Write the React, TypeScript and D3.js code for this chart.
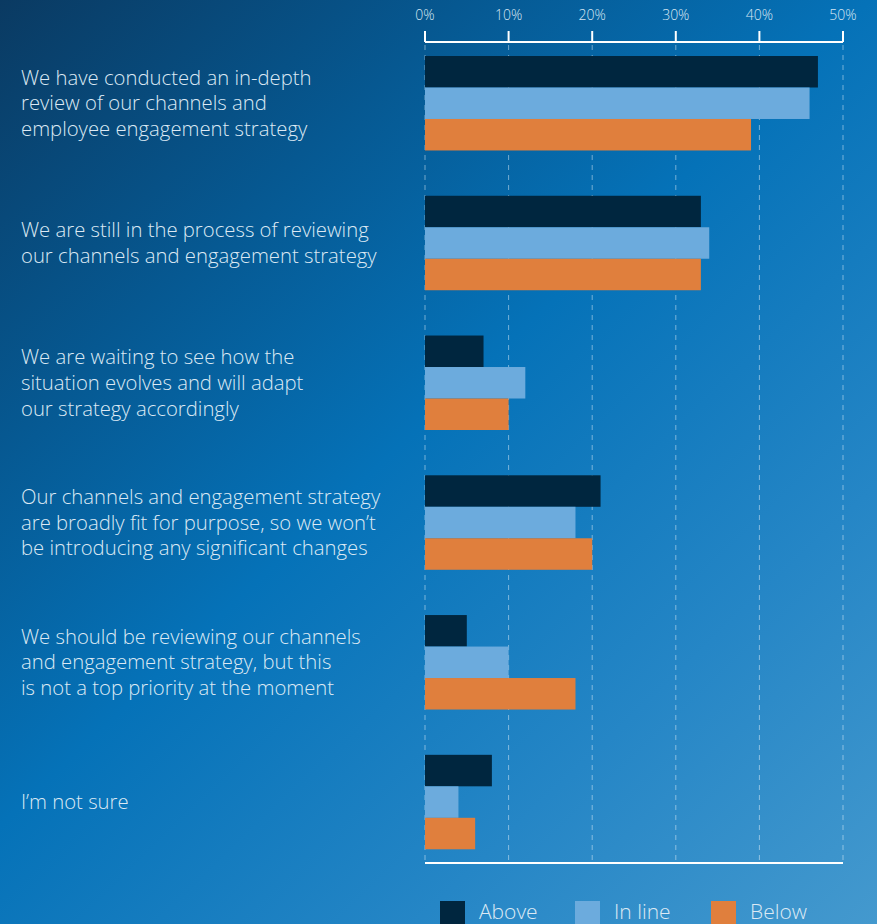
import React from "react";
import * as d3 from "d3";

const categories = [
  ["We have conducted an in-depth", "review of our channels and", "employee engagement strategy"],
  ["We are still in the process of reviewing", "our channels and engagement strategy"],
  ["We are waiting to see how the", "situation evolves and will adapt", "our strategy accordingly"],
  ["Our channels and engagement strategy", "are broadly fit for purpose, so we won\u2019t", "be introducing any significant changes"],
  ["We should be reviewing our channels", "and engagement strategy, but this", "is not a top priority at the moment"],
  ["I\u2019m not sure"],
];
const seriesNames = ["Above", "In line", "Below"];
const above = [47, 33, 7, 21, 5, 8];
const inLine = [46, 34, 12, 18, 10, 4];
const below = [39, 33, 10, 20, 18, 6];
const tickValues = [0, 10, 20, 30, 40, 50];
const tickLabels = ["0%", "10%", "20%", "30%", "40%", "50%"];
const colors = ["#00263f", "#6cabdd", "#e07f3d"];

const W = 877;
const H = 924;
const FONT = "'Open Sans', sans-serif";

export default function App() {
  const series = [above, inLine, below];
  const x = d3.scaleLinear().domain([0, 50]).range([425, 843]);
  const ids = categories.map((_, i) => String(i));
  const y = d3.scaleBand().domain(ids).range([56, 849.3]).paddingInner(0.324).paddingOuter(0);
  const ys = d3.scaleBand().domain(seriesNames).range([0, y.bandwidth()]).padding(0);
  const axisY = 42;
  const bottomY = 863;
  const legendX = [440, 575, 711];

  return (
    <svg width={W} height={H} style={{ position: "absolute", left: 0, top: 0 }} fontFamily={FONT}>
      <defs>
        <linearGradient id="bg" x1="0" y1="0" x2={W} y2={H} gradientUnits="userSpaceOnUse">
          <stop offset="0" stopColor="#0a3a62" />
          <stop offset="0.25" stopColor="#065891" />
          <stop offset="0.47" stopColor="#0572b8" />
          <stop offset="0.75" stopColor="#2586c6" />
          <stop offset="1" stopColor="#4499ce" />
        </linearGradient>
      </defs>
      <rect x={0} y={0} width={W} height={H} fill="url(#bg)" />

      {/* grid */}
      {tickValues.map((t) => (
        <line key={"g" + t} x1={x(t)} x2={x(t)} y1={axisY + 3} y2={bottomY}
          stroke="rgba(255,255,255,0.45)" strokeWidth={1} strokeDasharray="5,5" />
      ))}

      {/* top axis */}
      <line x1={x(0)} x2={x(50)} y1={axisY} y2={axisY} stroke="#ffffff" strokeWidth={2} />
      {tickValues.map((t, i) => (
        <g key={"t" + t}>
          <line x1={x(t)} x2={x(t)} y1={axisY - 11} y2={axisY} stroke="#ffffff" strokeWidth={2} />
          <text x={x(t)} y={20} textAnchor="middle" fontSize={14} fontWeight={300} fill="#d6e6f3">
            {tickLabels[i]}
          </text>
        </g>
      ))}

      {/* bottom axis */}
      <line x1={x(0)} x2={x(50)} y1={bottomY} y2={bottomY} stroke="#ffffff" strokeWidth={2} />

      {/* bars */}
      {ids.map((id, gi) => (
        <g key={"b" + id} transform={`translate(0,${y(id)})`}>
          {seriesNames.map((s, si) => (
            <rect key={s} x={x(0)} y={ys(s)} width={x(series[si][gi]) - x(0)} height={ys.bandwidth()} fill={colors[si]} />
          ))}
        </g>
      ))}

      {/* category labels */}
      {categories.map((lines, gi) => {
        const cy = (y(String(gi)) as number) + y.bandwidth() / 2;
        const lh = 25.8;
        const start = cy - ((lines.length - 1) * lh) / 2;
        return (
          <text key={"l" + gi} x={21} fontSize={20.3} fontWeight={300} fill="#dce9f4">
            {lines.map((ln, li) => (
              <tspan key={li} x={21} y={start + li * lh} dy="0.35em">{ln}</tspan>
            ))}
          </text>
        );
      })}

      {/* legend */}
      {seriesNames.map((s, i) => (
        <g key={"lg" + s}>
          <rect x={legendX[i]} y={901} width={25} height={25} fill={colors[i]} />
          <text x={legendX[i] + 39} y={919} fontSize={21} fontWeight={300} fill="#dce9f4">{s}</text>
        </g>
      ))}
    </svg>
  );
}
